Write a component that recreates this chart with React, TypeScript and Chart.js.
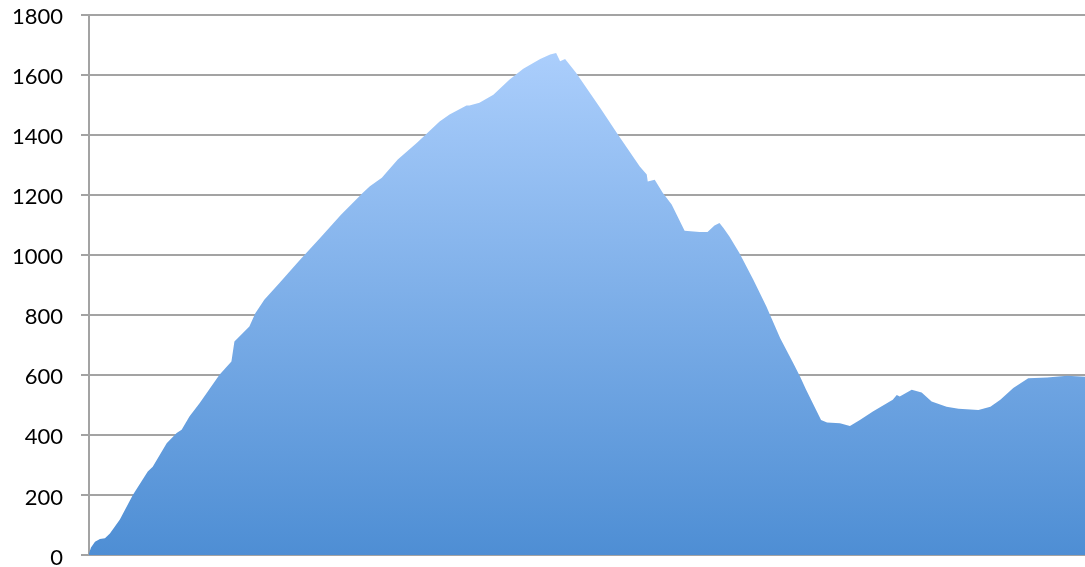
import React, { useEffect, useRef } from "react";
import { Chart, registerables } from "chart.js";

Chart.register(...registerables);

// distance along the route (0..100 of the x extent)
const distances: number[] = [
  0.0, 0.2, 0.6, 1.1, 1.6, 2.1, 3.1, 4.4, 5.9, 6.4, 7.8, 8.8, 9.3, 10.1, 11.1, 12.1, 13.1, 14.3, 14.6,
  16.1, 16.7, 17.6, 19.1, 21.1, 23.2, 25.3, 27.5, 28.2, 29.4, 31.0, 32.9, 34.0, 35.2, 36.2, 37.9, 38.2,
  39.2, 40.6, 42.2, 43.6, 45.3, 46.3, 46.9, 47.3, 47.8, 48.9, 51.3, 53.1, 55.3, 56.0, 56.1, 56.8, 57.6,
  58.5, 59.8, 61.3, 62.1, 62.8, 63.3, 63.7, 64.3, 65.3, 66.7, 68.0, 69.4, 70.7, 71.4, 72.0, 73.5, 74.1,
  75.4, 76.4, 77.4, 78.7, 80.7, 81.1, 81.4, 82.6, 83.6, 84.6, 86.1, 87.3, 89.3, 90.5, 91.5, 92.8, 94.3,
  96.2, 98.2, 100,
];

// elevation values
const elevations: number[] = [
  5, 25, 44, 53, 56, 72, 118, 200, 278, 294, 372, 406, 417, 462, 505, 553, 600, 644, 711,
  761, 805, 850, 905, 980, 1056, 1133, 1206, 1228, 1256, 1317, 1372, 1406, 1444, 1467, 1497, 1497,
  1506, 1533, 1583, 1619, 1652, 1667, 1672, 1644, 1652, 1606, 1490, 1400, 1294, 1267, 1244, 1250, 1206,
  1167, 1080, 1076, 1076, 1097, 1106, 1089, 1061, 1006, 917, 828, 722, 639, 594, 550, 450, 441,
  439, 430, 450, 478, 517, 533, 528, 550, 541, 511, 494, 487, 483, 494, 517, 556, 589,
  591, 597, 594,
];

const yMin = 0;
const yMax = 1800;
const yStep = 200;

export default function App() {
  const ref = useRef<HTMLCanvasElement | null>(null);

  useEffect(() => {
    if (!ref.current) return;
    const points = distances.map((d, i) => ({ x: d, y: elevations[i] }));
    const gridColor = "#a3a3a3";
    const chart = new Chart(ref.current, {
      type: "line",
      data: {
        datasets: [
          {
            data: points,
            borderWidth: 0,
            pointRadius: 0,
            tension: 0,
            fill: "origin",
            backgroundColor: (ctx: any) => {
              const area = ctx.chart.chartArea;
              if (!area) return "#7aaee8";
              const g = ctx.chart.ctx.createLinearGradient(0, area.top, 0, area.bottom);
              g.addColorStop(0, "#b2d3ff");
              g.addColorStop(1, "#4e8ed4");
              return g;
            },
          },
        ],
      },
      options: {
        responsive: false,
        animation: false,
        layout: { padding: { top: 14.5, bottom: 12, left: 0, right: 0 } },
        plugins: { legend: { display: false }, tooltip: { enabled: false } },
        scales: {
          x: {
            type: "linear",
            min: 0,
            max: 100,
            display: false,
          },
          y: {
            min: yMin,
            max: yMax,
            afterFit: (s: any) => {
              s.width = 89;
              s.paddingTop = 0;
              s.paddingBottom = 0;
            },
            ticks: {
              stepSize: yStep,
              padding: 18,
              labelOffset: 2.5,
              color: "#000",
              font: { family: "Lato, 'Liberation Sans', Arial, sans-serif", size: 22 },
              callback: (v: any) => String(v),
            },
            grid: { color: gridColor, lineWidth: 2, tickLength: 8 },
            border: { display: true, color: gridColor, width: 2 },
          },
        },
      },
    });
    return () => chart.destroy();
  }, []);

  return (
    <div style={{ position: "fixed", left: 0, top: 0, width: 1085, height: 567, background: "#fff" }}>
      <canvas ref={ref} width={1085} height={567} style={{ display: "block" }} />
    </div>
  );
}
